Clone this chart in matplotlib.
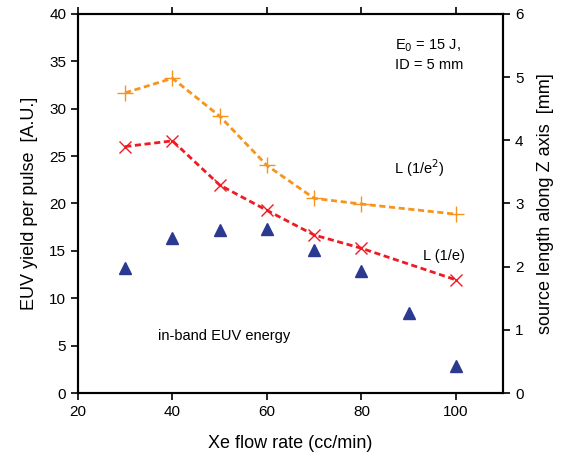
import matplotlib
matplotlib.use("Agg")
import matplotlib.pyplot as plt

plt.rcParams['font.family'] = ['Liberation Sans', 'DejaVu Sans']

# in-band EUV energy (left axis)
flow_euv = [30, 40, 50, 60, 70, 80, 90, 100]
euv_yield = [13.2, 16.3, 17.2, 17.3, 15.1, 12.9, 8.4, 2.85]

# source length (right axis)
flow_len = [30, 40, 50, 60, 70, 80, 100]
len_e2 = [4.75, 4.98, 4.38, 3.6, 3.08, 2.99, 2.83]
len_e = [3.9, 3.99, 3.29, 2.89, 2.5, 2.29, 1.79]

fig = plt.figure(figsize=(5.61, 4.61), dpi=100)
ax = fig.add_axes([0.139, 0.1475, 0.758, 0.8225])
ax2 = ax.twinx()

ax.plot(flow_euv, euv_yield, linestyle='none', marker='^', color='#2b3990',
        markersize=9)
ax2.plot(flow_len, len_e2, linestyle='--', dashes=(2.2, 1.3), color='#f7941d',
         linewidth=2, marker='+', markersize=11, markeredgewidth=1)
ax2.plot(flow_len, len_e, linestyle='--', dashes=(2.2, 1.3), color='#ed1c24',
         linewidth=2, marker='x', markersize=9, markeredgewidth=1)

ax.set_xlim(20, 110)
ax.set_ylim(0, 40)
ax2.set_ylim(0, 6)
ax.set_xticks([20, 40, 60, 80, 100])
ax.set_yticks(range(0, 41, 5))
ax2.set_yticks(range(0, 7))

for a in (ax, ax2):
    for s in a.spines.values():
        s.set_linewidth(1.5)
    a.tick_params(labelsize=11, width=1.2, length=5, direction='out')
ax.tick_params(top=True)

ax.set_xlabel('Xe flow rate (cc/min)', fontsize=13, labelpad=12)
ax.set_ylabel('EUV yield per pulse  [A.U.]', fontsize=13, labelpad=8)
ax2.set_ylabel('source length along Z axis  [mm]', fontsize=13, labelpad=10)

ax.text(87.0, 36.6, r'E$_0$ = 15 J,', fontsize=10.5, va='center')
ax.text(87.0, 34.6, 'ID = 5 mm', fontsize=10.5, va='center')
ax.text(86.8, 23.7, r'L (1/e$^2$)', fontsize=10.5, va='center')
ax.text(93.0, 14.5, 'L (1/e)', fontsize=10.5, va='center')
ax.text(37.0, 6.0, 'in-band EUV energy', fontsize=10.5, va='center')

fig.savefig('out.png', dpi=100)
